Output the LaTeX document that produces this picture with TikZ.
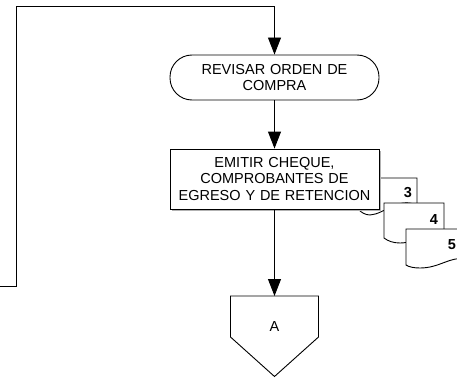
\documentclass[tikz,border=0pt]{standalone}
\usepackage{fontspec}
\setmainfont{Liberation Sans}
\usetikzlibrary{arrows.meta}
\begin{document}
\begin{tikzpicture}[x=1pt,y=-1pt,
  line width=0.9pt,
  every node/.style={font=\fontsize{14.5}{16.5}\selectfont, inner sep=0pt},
  flow/.style={-{Triangle[length=17pt,width=13pt]}},
  terminal/.style={draw, rectangle, rounded corners=22pt, fill=white,
    minimum width=209pt, minimum height=45pt, text width=200pt, align=center},
  process/.style={draw, rectangle, fill=white,
    minimum width=209pt, minimum height=60pt, text width=200pt, align=center},
  docnum/.style={font=\fontsize{14.5}{16.5}\selectfont\bfseries},
  docline/.style={draw, fill=white},
]
\useasboundingbox (0,0) rectangle (457,377);

% document 3 sits behind the process box
\path[docline] (359,178) -- (417,178) -- (417,205)
  .. controls (397,197) and (385,214) .. (370,215)
  .. controls (365,215) and (361,212) .. (359,210) -- cycle;
\node[docnum] (n3) at (408,193) {3};

% process box with a faint drop shadow
\fill[gray!60] (171.5,150.5) rectangle (380.5,210.5);
\node[process] (emit) at (274.5,179) {EMITIR CHEQUE,\\COMPROBANTES DE\\EGRESO Y DE RETENCION};

% documents 4 and 5
\path[docline] (384,203) -- (444,203) -- (444,233)
  .. controls (430,229) and (418,243) .. (400,243)
  .. controls (393,243) and (388,241) .. (384,238) -- cycle;
\node[docnum] (n4) at (434,220) {4};
\path[docline] (406,229) -- (466,229) -- (466,259)
  .. controls (450,256) and (440,268) .. (420,268)
  .. controls (414,268) and (409,267) .. (406,265) -- cycle;
\node[docnum] (n5) at (452,245) {5};

% start terminal
\node[terminal] (review) at (274.5,77.5) {REVISAR ORDEN DE\\COMPRA};

% incoming loop from the left
\coordinate (inflow) at (0,286);
\coordinate (c1) at (16,286);
\coordinate (c2) at (16,6);
\coordinate (c3) at (274.5,6);
\draw[flow] (inflow) -- (c1) -- (c2) -- (c3) -- (review.north);

\draw[flow] (review.south) -- (emit.north);

% off-page connector
\coordinate (ctop) at (274.5,296);
\path[docline] (230.5,296) -- (318.5,296) -- (318.5,337) -- (274.5,376.5) -- (230.5,337) -- cycle;
\node (conn) at (274.5,327) {A};
\draw[flow] (emit.south) -- (ctop);
\end{tikzpicture}
\end{document}
